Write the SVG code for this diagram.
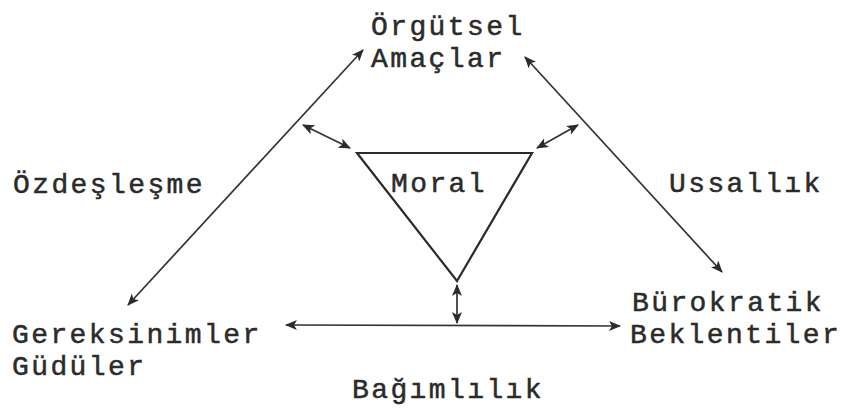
<svg xmlns="http://www.w3.org/2000/svg" width="849" height="410" viewBox="0 0 849 410">
<style>
  text { font-family: "Liberation Mono", "Courier New", monospace; font-size: 28px; letter-spacing: 2.4px; fill: #2b2b2b; stroke: #2b2b2b; stroke-width: 0.5px; }
  .ln { stroke: #333; stroke-width: 1.7; fill: none; }
  .tri { stroke: #2b2b2b; stroke-width: 2.2; fill: none; stroke-linejoin: miter; }
</style>
<defs>
  <marker id="ah" viewBox="0 0 12 10" refX="11" refY="5" markerWidth="12" markerHeight="10" markerUnits="userSpaceOnUse" orient="auto-start-reverse">
    <path d="M0,0 L12,5 L0,10 L3,5 Z" fill="#2b2b2b"/>
  </marker>
</defs>
<g id="orgutsel-amaclar">
  <text x="371" y="35">Örgütsel</text>
  <text x="371" y="67">Amaçlar</text>
</g>
<g id="moral">
  <polygon class="tri" points="357,153 532,153 457,281"/>
  <text x="391" y="192">Moral</text>
</g>
<g id="gereksinimler-guduler">
  <text x="12" y="343">Gereksinimler</text>
  <text x="12" y="375">Güdüler</text>
</g>
<g id="burokratik-beklentiler">
  <text x="632" y="311">Bürokratik</text>
  <text x="630" y="343">Beklentiler</text>
</g>
<g id="labels">
  <text x="13" y="193">Özdeşleşme</text>
  <text x="669" y="192">Ussallık</text>
  <text x="352" y="398">Bağımlılık</text>
</g>
<g id="connectors">
  <line class="ln" x1="128" y1="305" x2="363" y2="50" marker-start="url(#ah)" marker-end="url(#ah)"/>
  <line class="ln" x1="525" y1="57" x2="722" y2="272" marker-start="url(#ah)" marker-end="url(#ah)"/>
  <line class="ln" x1="303" y1="125" x2="350" y2="148" marker-start="url(#ah)" marker-end="url(#ah)"/>
  <line class="ln" x1="537" y1="148" x2="578" y2="125" marker-start="url(#ah)" marker-end="url(#ah)"/>
  <line class="ln" x1="457" y1="285" x2="457" y2="323" marker-start="url(#ah)" marker-end="url(#ah)"/>
  <line class="ln" x1="286" y1="325" x2="620" y2="326" marker-start="url(#ah)" marker-end="url(#ah)"/>
</g>
</svg>
